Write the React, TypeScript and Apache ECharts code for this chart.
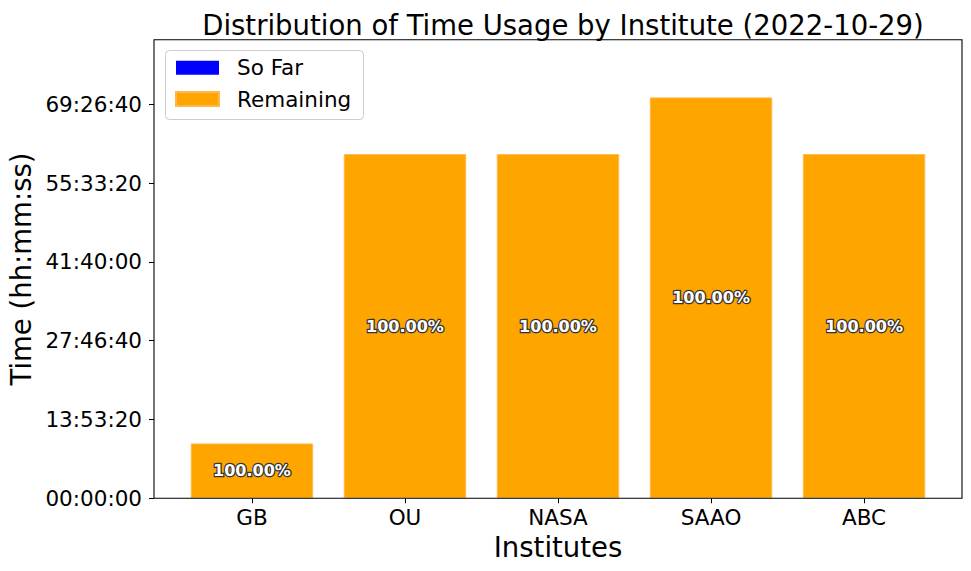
import React, { useEffect, useRef } from "react";
import * as echarts from "echarts";

const categories = ["GB", "OU", "NASA", "SAAO", "ABC"];
const soFarSeconds = [0, 0, 0, 0, 0];
const remainingSeconds = [34800, 218400, 218400, 254400, 218400];
const yTicks = [0, 50000, 100000, 150000, 200000, 250000];
const yMax = 291000;
const titleText = "Distribution of Time Usage by Institute (2022-10-29)";

const FONT = "DejaVu Sans";

function fmt(sec: number): string {
  const h = Math.floor(sec / 3600);
  const m = Math.floor((sec % 3600) / 60);
  const s = Math.round(sec % 60);
  const p = (n: number) => String(n).padStart(2, "0");
  return `${p(h)}:${p(m)}:${p(s)}`;
}

export default function App() {
  const ref = useRef<HTMLDivElement>(null);
  useEffect(() => {
    if (!ref.current) return;
    const chart = echarts.init(ref.current, null, { renderer: "svg" });
    const L = 154, R = 962, T = 39.7, B = 498.3;
    const pad = (R - L) * (0.14 / 5.28);
    chart.setOption({
      animation: false,
      backgroundColor: "#fff",
      title: {
        text: titleText,
        left: (L + R) / 2,
        textAlign: "center",
        top: 6,
        textStyle: { fontFamily: FONT, fontSize: 27.5, fontWeight: "normal", color: "#000" },
      },
      legend: {
        orient: "vertical",
        left: 175,
        top: 56.7,
        padding: 0,
        itemWidth: 43,
        itemHeight: 14,
        itemGap: 9.3,
        icon: "rect",
        textStyle: { fontFamily: FONT, fontSize: 21.5, color: "#000", lineHeight: 22, padding: [0, 0, 0, 13] },
        data: ["So Far", "Remaining"],
      },
      grid: {
        left: L + pad,
        right: 971 - (R - pad),
        top: T,
        bottom: 571 - B,
        containLabel: false,
        outerBoundsMode: "none",
      },
      xAxis: {
        type: "category",
        data: categories,
        name: "Institutes",
        nameLocation: "middle",
        nameGap: 33,
        nameTextStyle: { fontFamily: FONT, fontSize: 27.5, color: "#000" },
        axisLine: { show: false },
        axisTick: { show: true, alignWithLabel: true, length: 5, lineStyle: { color: "#000", width: 1 } },
        axisLabel: { fontFamily: FONT, fontSize: 21.5, color: "#000", margin: 8 },
        splitLine: { show: false },
      },
      yAxis: {
        type: "value",
        min: 0,
        max: yMax,
        interval: 50000,
        offset: pad,
        name: "Time (hh:mm:ss)",
        nameLocation: "middle",
        nameGap: 118,
        nameTextStyle: { fontFamily: FONT, fontSize: 27.5, color: "#000" },
        axisLine: { show: false },
        axisTick: { show: true, length: 5, customValues: yTicks, lineStyle: { color: "#000", width: 1 } },
        axisLabel: {
          fontFamily: FONT,
          fontSize: 21.5,
          color: "#000",
          margin: 12,
          customValues: yTicks,
          formatter: (v: number) => fmt(v),
        },
        splitLine: { show: false },
      },
      graphic: [
        {
          type: "rect",
          z: 0,
          shape: { x: 165.5, y: 50.5, width: 198, height: 69, r: 4 },
          style: { fill: "rgba(255,255,255,0.8)", stroke: "#cccccc", lineWidth: 1 },
        },
        {
          type: "rect",
          z: 10,
          silent: true,
          shape: { x: L, y: T, width: R - L, height: B - T },
          style: { fill: "none", stroke: "#000", lineWidth: 1.1 },
        },
      ],
      series: [
        {
          name: "So Far",
          type: "bar",
          stack: "t",
          barWidth: "80%",
          itemStyle: { color: "#0000ff" },
          data: soFarSeconds,
        },
        {
          name: "Remaining",
          type: "bar",
          stack: "t",
          barWidth: "80%",
          itemStyle: { color: "#FFA500", borderColor: "#FFB84D", borderWidth: 1 },
          label: {
            show: true,
            position: "inside",
            fontFamily: FONT,
            fontWeight: "bold",
            fontSize: 16,
            color: "#fff",
            textBorderColor: "#333",
            textBorderWidth: 2.5,
            formatter: (p: any) => {
              const i = p.dataIndex;
              const total = soFarSeconds[i] + remainingSeconds[i];
              return ((remainingSeconds[i] / total) * 100).toFixed(2) + "%";
            },
          },
          data: remainingSeconds,
        },
      ],
    });
    return () => chart.dispose();
  }, []);
  return <div ref={ref} style={{ width: 971, height: 571, position: "absolute", left: 0, top: 0 }} />;
}
